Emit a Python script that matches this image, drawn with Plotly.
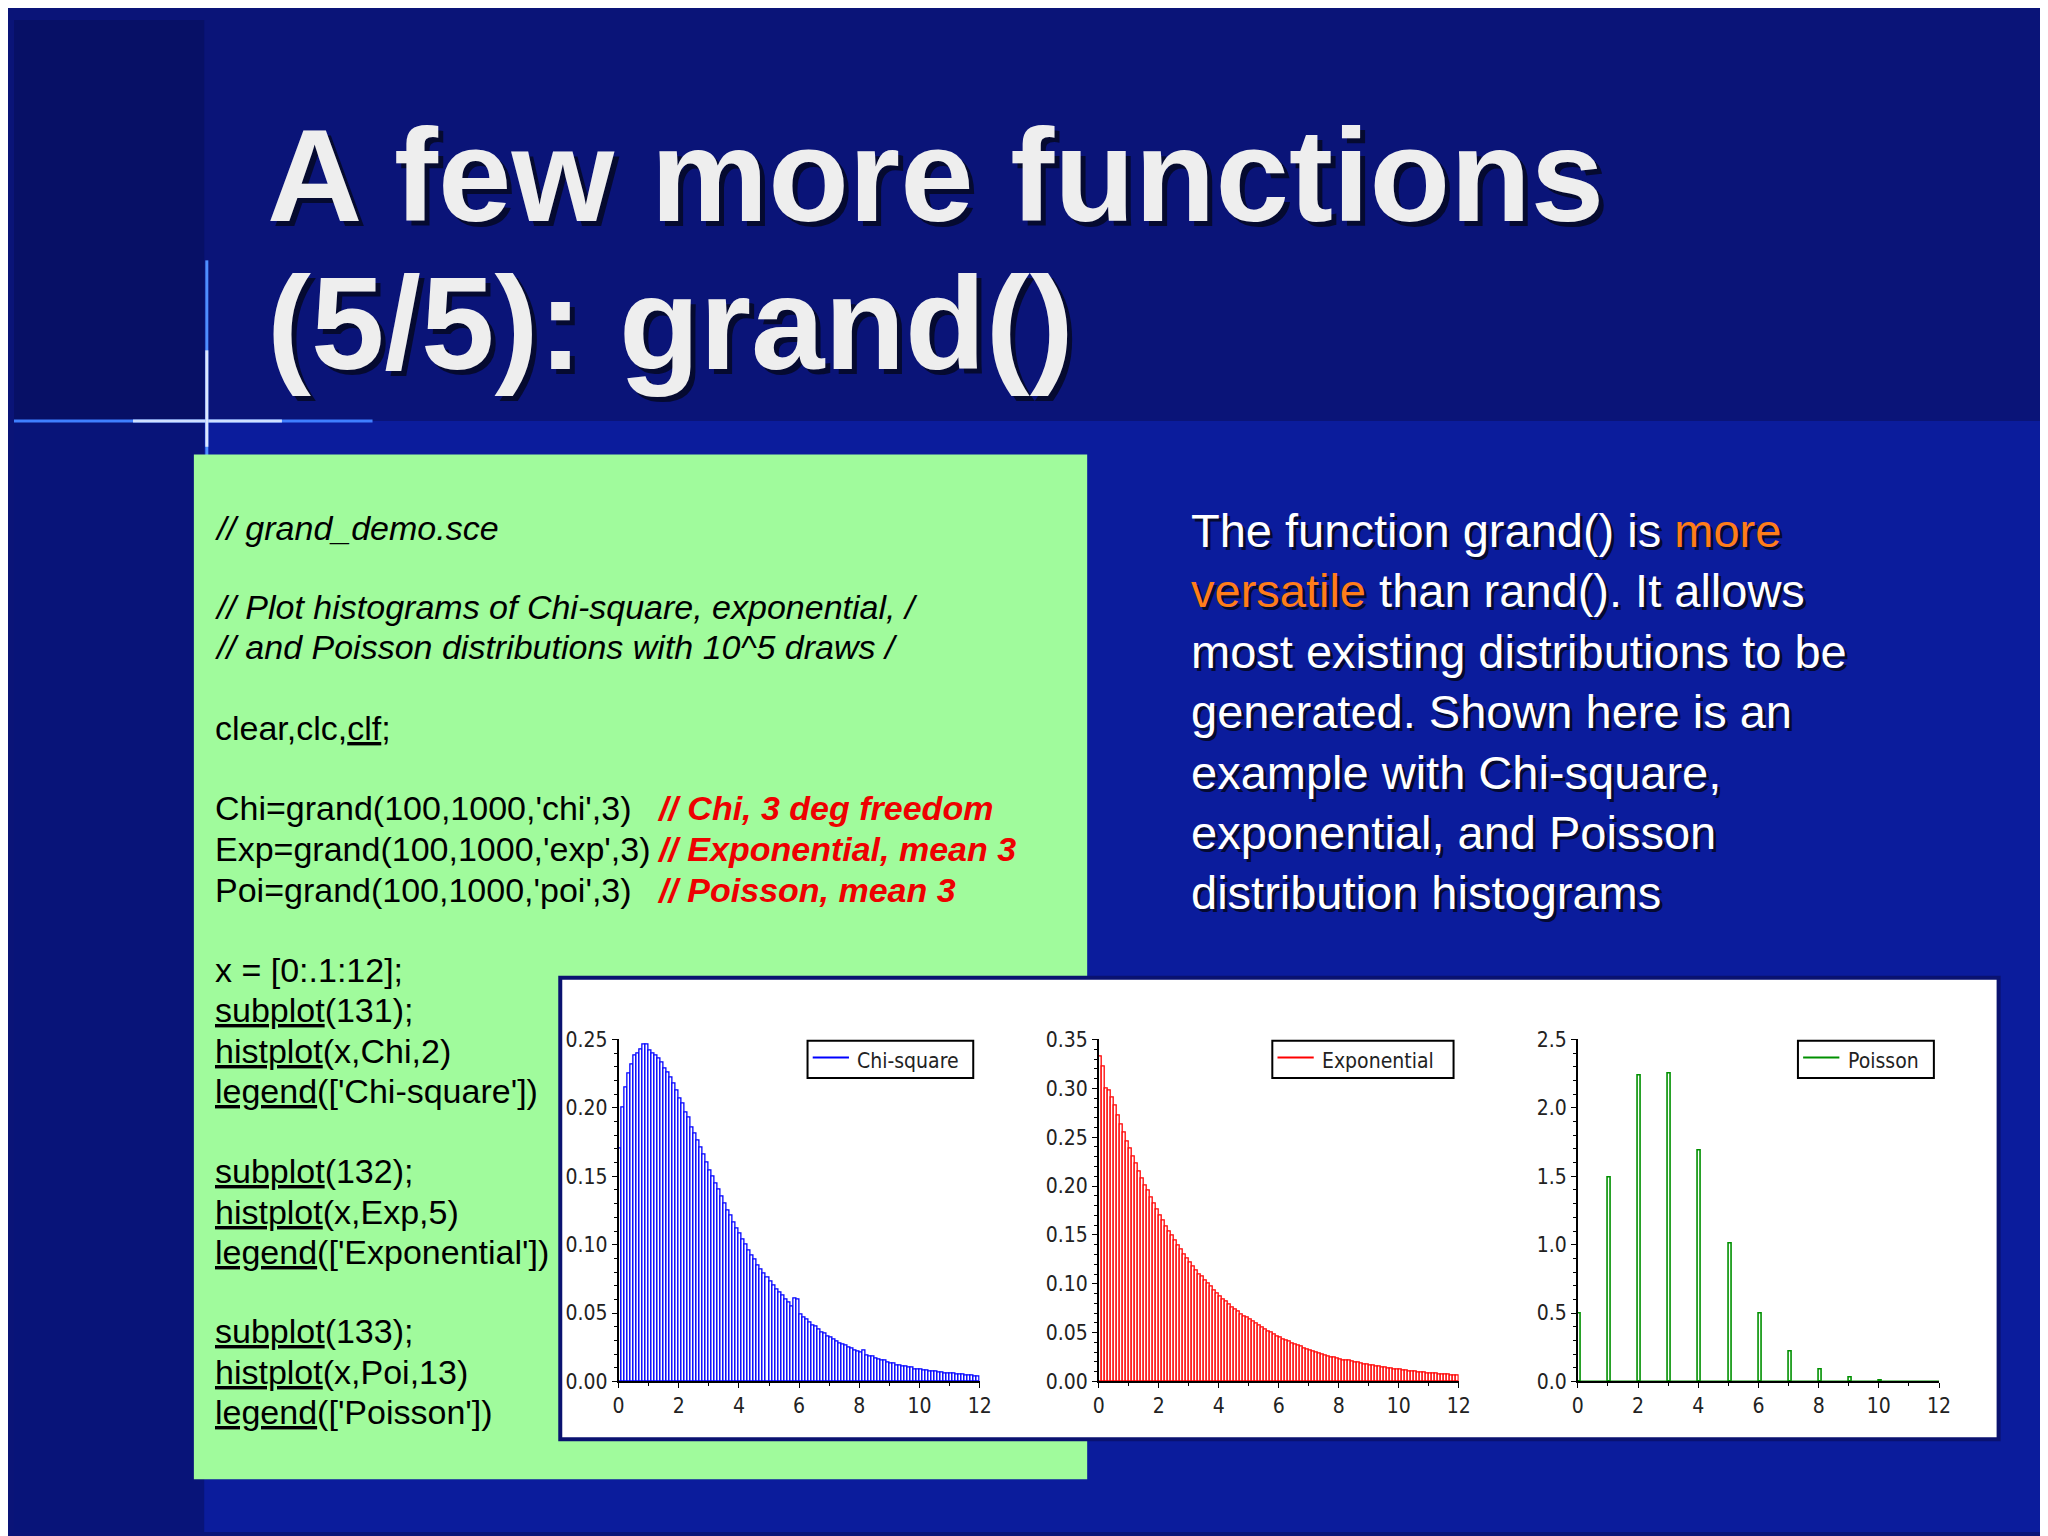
import numpy as np
import plotly.graph_objects as go

W, H = 2048, 1536
SC = 2048 / 1568  # reference was measured on a 1568-wide view
OFF = 4  # page body margin in the browser

# histogram bin edges x = [0:.1:12]
edges = [round(0.1 * i, 1) for i in range(121)]

chi_vals = [
    0.170, 0.200, 0.215, 0.225, 0.232, 0.238, 0.240, 0.243, 0.246, 0.246,
    0.242, 0.240, 0.238, 0.236, 0.233, 0.229, 0.226, 0.222, 0.218, 0.213,
    0.207, 0.203, 0.197, 0.193, 0.186, 0.181, 0.176, 0.171, 0.166, 0.160,
    0.154, 0.150, 0.145, 0.140, 0.135, 0.130, 0.125, 0.121, 0.116, 0.112,
    0.108, 0.104, 0.100, 0.096, 0.092, 0.089, 0.085, 0.082, 0.079, 0.076,
    0.073, 0.070, 0.067, 0.065, 0.063, 0.060, 0.058, 0.055, 0.061, 0.060,
    0.049, 0.047, 0.045, 0.043, 0.041, 0.040, 0.038, 0.036, 0.035, 0.033,
    0.032, 0.031, 0.029, 0.028, 0.027, 0.026, 0.025, 0.024, 0.023, 0.022,
    0.021, 0.023, 0.019, 0.018, 0.018, 0.017, 0.016, 0.015, 0.015, 0.014,
    0.013, 0.013, 0.012, 0.012, 0.011, 0.011, 0.010, 0.010, 0.009, 0.009,
    0.0085, 0.008, 0.008, 0.0075, 0.007, 0.007, 0.0065, 0.0065, 0.006, 0.006,
    0.0055, 0.0055, 0.005, 0.005, 0.005, 0.0045, 0.0045, 0.0045, 0.004, 0.004,
]

exp_vals = [
    0.333, 0.322, 0.300, 0.298, 0.291, 0.282, 0.272, 0.263, 0.255, 0.246,
    0.238, 0.230, 0.223, 0.215, 0.208, 0.201, 0.195, 0.188, 0.182, 0.176,
    0.170, 0.165, 0.159, 0.154, 0.149, 0.144, 0.139, 0.135, 0.130, 0.126,
    0.122, 0.118, 0.114, 0.110, 0.107, 0.103, 0.100, 0.097, 0.093, 0.090,
    0.087, 0.084, 0.082, 0.079, 0.076, 0.074, 0.072, 0.069, 0.067, 0.065,
    0.063, 0.061, 0.059, 0.057, 0.055, 0.053, 0.051, 0.050, 0.048, 0.046,
    0.045, 0.043, 0.042, 0.041, 0.039, 0.038, 0.037, 0.036, 0.034, 0.033,
    0.032, 0.031, 0.030, 0.029, 0.028, 0.027, 0.026, 0.025, 0.025, 0.024,
    0.023, 0.022, 0.021, 0.021, 0.020, 0.019, 0.019, 0.018, 0.017, 0.017,
    0.016, 0.016, 0.015, 0.015, 0.014, 0.014, 0.013, 0.013, 0.012, 0.012,
    0.0118, 0.0114, 0.011, 0.0106, 0.0103, 0.0099, 0.0096, 0.0093, 0.009, 0.0087,
    0.0084, 0.0081, 0.0078, 0.0076, 0.0073, 0.0071, 0.0069, 0.0066, 0.0064, 0.0062,
]

poi_k = [0, 1, 2, 3, 4, 5, 6, 7, 8, 9, 10]
poi_vals = [0.50, 1.49, 2.24, 2.25, 1.69, 1.01, 0.50, 0.22, 0.09, 0.03, 0.008]

code_lines = [
    (398, "<i>// grand_demo.sce</i>"),
    (460, "<i>// Plot histograms of Chi-square, exponential, /</i>"),
    (491, "<i>// and Poisson distributions with 10^5 draws /</i>"),
    (554, "clear,clc,<u>clf</u>;"),
    (616, "Chi=grand(100,1000,'chi',3)"),
    (648, "Exp=grand(100,1000,'exp',3)"),
    (680, "Poi=grand(100,1000,'poi',3)"),
    (742, "x = [0:.1:12];"),
    (773, "<u>subplot</u>(131);"),
    (805, "<u>histplot</u>(x,Chi,2)"),
    (836, "<u>legend</u>(['Chi-square'])"),
    (898, "<u>subplot</u>(132);"),
    (930, "<u>histplot</u>(x,Exp,5)"),
    (961, "<u>legend</u>(['Exponential'])"),
    (1023, "<u>subplot</u>(133);"),
    (1055, "<u>histplot</u>(x,Poi,13)"),
    (1086, "<u>legend</u>(['Poisson'])"),
]
comments = [(616, "// Chi, 3 deg freedom"), (648, "// Exponential, mean 3"),
            (680, "// Poisson, mean 3")]

OR = "#ff7d1a"
right_lines = [
    "The function grand() is <span style='color:%s'>more</span>" % OR,
    "<span style='color:%s'>versatile</span> than rand(). It allows" % OR,
    "most existing distributions to be",
    "generated. Shown here is an",
    "example with Chi-square,",
    "exponential, and Poisson",
    "distribution histograms",
]


def fx(d):
    return (d * SC - OFF) / W


def fy(d):
    return 1 - (d * SC - OFF) / H


centers = [(edges[i] + edges[i + 1]) / 2 for i in range(120)]

fig = go.Figure()
fig.add_trace(go.Bar(x=centers, y=chi_vals, width=0.1, marker=dict(color="white", line=dict(color="#0000ff", width=1.3)),
                     xaxis="x", yaxis="y"))
fig.add_trace(go.Bar(x=centers, y=exp_vals, width=0.1, marker=dict(color="white", line=dict(color="#ff0000", width=1.3)),
                     xaxis="x2", yaxis="y2"))
fig.add_trace(go.Bar(x=[k + 0.05 for k in poi_k], y=poi_vals, width=0.1,
                     marker=dict(color="white", line=dict(color="#009000", width=1.6)),
                     xaxis="x3", yaxis="y3"))
fig.add_trace(go.Scatter(x=[0, 12], y=[0, 0], mode="lines", line=dict(color="#009000", width=2),
                         xaxis="x3", yaxis="y3"))

ax_common = dict(showgrid=False, zeroline=False, showline=True, linecolor="black", linewidth=1.5,
                 ticks="outside", ticklen=5, tickcolor="black",
                 tickfont=dict(family="DejaVu Sans Condensed, Liberation Sans", size=21, color="#222"))
y0, y1 = fy(1062), fy(796)
doms = [(fx(470), fx(749)), (fx(841), fx(1119)), (fx(1211), fx(1490))]
yr = [(0.25, 0.05, ".2f"), (0.35, 0.05, ".2f"), (2.5, 0.5, ".1f")]
lay = {}
for i, (d, (top, dt, fmt)) in enumerate(zip(doms, yr)):
    s = "" if i == 0 else str(i + 1)
    lay["xaxis" + s] = dict(ax_common, domain=list(d), range=[0, 12], tickvals=list(range(0, 13, 2)),
                           anchor="y" + s, minor=dict(ticks="outside", ticklen=3, dtick=1, tickcolor="black"))
    lay["yaxis" + s] = dict(ax_common, domain=[y0, y1], range=[0, top], dtick=dt, tickformat=fmt,
                           anchor="x" + s, minor=dict(ticks="outside", ticklen=3, dtick=dt / 5, tickcolor="black"))

fig.update_layout(**lay)

shapes = [
    dict(type="rect", xref="paper", yref="paper", x0=0, x1=1, y0=0, y1=fy(315), fillcolor="#0b1c9c", line_width=0, layer="below"),
    dict(type="rect", xref="paper", yref="paper", x0=0, x1=fx(150), y0=0, y1=1, fillcolor="rgba(5,10,80,0.45)", line_width=0, layer="below"),
    dict(type="line", xref="paper", yref="paper", x0=0, x1=fx(280), y0=fy(315), y1=fy(315), line=dict(color="#3f7fff", width=3), layer="below"),
    dict(type="line", xref="paper", yref="paper", x0=fx(95), x1=fx(210), y0=fy(315), y1=fy(315), line=dict(color="#cfe0ff", width=3), layer="below"),
    dict(type="line", xref="paper", yref="paper", x0=fx(152), x1=fx(152), y0=fy(190), y1=fy(345), line=dict(color="#4f8fff", width=3), layer="below"),
    dict(type="line", xref="paper", yref="paper", x0=fx(152), x1=fx(152), y0=fy(260), y1=fy(335), line=dict(color="#dde8ff", width=3), layer="below"),
    dict(type="rect", xref="paper", yref="paper", x0=fx(142), x1=fx(832), y0=fy(1138), y1=fy(341), fillcolor="#a0fb9c", line_width=0, layer="below"),
    dict(type="rect", xref="paper", yref="paper", x0=fx(425), x1=fx(1536), y0=fy(1107), y1=fy(748), fillcolor="white",
         line=dict(color="#0a1270", width=4), layer="below"),
]
# legends
legs = [(616, 744, "#0000ff", "Chi-square"), (975, 1115, "#ff0000", "Exponential"), (1381, 1486, "#009000", "Poisson")]
anns = []
for xa, xb, col, name in legs:
    shapes.append(dict(type="rect", xref="paper", yref="paper", x0=fx(xa), x1=fx(xb), y0=fy(826), y1=fy(797),
                       fillcolor="white", line=dict(color="black", width=2)))
    shapes.append(dict(type="line", xref="paper", yref="paper", x0=fx(xa + 4), x1=fx(xa + 32), y0=fy(810), y1=fy(810),
                       line=dict(color=col, width=2)))
    anns.append(dict(x=fx(xa + 37), y=fy(813), xref="paper", yref="paper", xanchor="left", yanchor="middle",
                     text=name, showarrow=False, font=dict(family="DejaVu Sans Condensed, Liberation Sans", size=21, color="#222")))

for t, yy in [("A few more functions", 124), ("(5/5): grand()", 239)]:
    for dx, dy, c in [(5, 5, "#050a30"), (0, 0, "#eeeeee")]:
        anns.append(dict(x=fx(197) + dx / W, y=fy(yy) - dy / H, xref="paper", yref="paper", xanchor="left", yanchor="middle",
                         text="<b>%s</b>" % t, showarrow=False,
                         font=dict(family="Liberation Sans", size=132, color=c)))

for yy, t in code_lines:
    anns.append(dict(x=fx(157), y=fy(yy), xref="paper", yref="paper", xanchor="left", yanchor="middle", text=t,
                     showarrow=False, font=dict(family="Liberation Sans", size=34, color="black")))
for yy, t in comments:
    anns.append(dict(x=fx(498), y=fy(yy), xref="paper", yref="paper", xanchor="left", yanchor="middle",
                     text="<b><i>%s</i></b>" % t, showarrow=False,
                     font=dict(family="Liberation Sans", size=34, color="#ee0000")))
for j, t in enumerate(right_lines):
    yy = 400 + 47 * j
    for dx, c in [(3, "#050a30"), (0, "white")]:
        anns.append(dict(x=fx(911) + dx / W, y=fy(yy) - dx / H, xref="paper", yref="paper", xanchor="left",
                         yanchor="middle", text=t if c == "white" else t.replace(OR, "#050a30"),
                         showarrow=False, font=dict(family="Liberation Sans", size=47, color=c)))

fig.update_layout(width=W, height=H, margin=dict(l=0, r=0, t=0, b=0), paper_bgcolor="#0a1478",
                  plot_bgcolor="rgba(0,0,0,0)", showlegend=False, bargap=0, shapes=shapes, annotations=anns)
fig.write_html("out.html")
